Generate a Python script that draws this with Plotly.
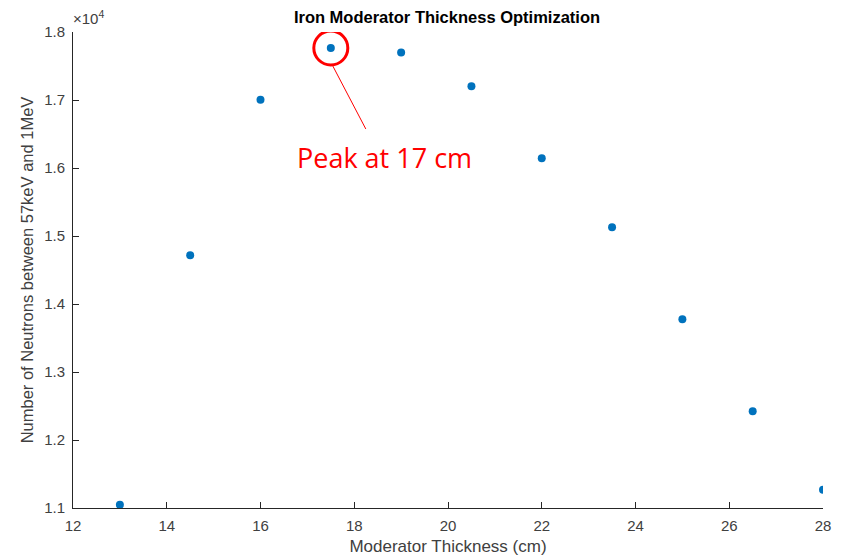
import plotly.graph_objects as go

thickness = [13, 14.5, 16, 17.5, 19, 20.5, 22, 23.5, 25, 26.5, 28]
neutrons = [11047, 14716, 17003, 17765, 17697, 17201, 16143, 15128, 13775, 12422, 11270]
ytick_vals = [11000, 12000, 13000, 14000, 15000, 16000, 17000, 18000]
ytick_text = ["1.1", "1.2", "1.3", "1.4", "1.5", "1.6", "1.7", "1.8"]
xtick_vals = [12, 14, 16, 18, 20, 22, 24, 26, 28]

peak_i = neutrons.index(max(neutrons))
px, py = thickness[peak_i], neutrons[peak_i]

axis_col = "#262626"
label_col = "#404040"
font_fam = "Liberation Sans, Arial, sans-serif"

fig = go.Figure()
fig.add_trace(go.Scatter(
    x=thickness, y=neutrons, mode="markers",
    marker=dict(color="#0072BD", size=8, line=dict(width=0)),
    showlegend=False, hoverinfo="x+y"))

fig.update_layout(
    width=841, height=556,
    margin=dict(l=73, r=18, t=32, b=48),
    plot_bgcolor="white", paper_bgcolor="white",
    font=dict(family=font_fam, color=axis_col, size=15),
    title=dict(text="<b>Iron Moderator Thickness Optimization</b>",
               x=0.5315, xanchor="center", y=0.969, yanchor="middle",
               font=dict(size=16.5, color="black")),
    xaxis=dict(range=[12, 28], tickvals=xtick_vals, ticks="inside", ticklen=6,
               tickcolor=axis_col, showline=True, linecolor=axis_col, linewidth=1,
               showgrid=False, zeroline=False, ticklabelstandoff=4, automargin=False,
               tickfont=dict(size=15, color=label_col),
               title=dict(text="Moderator Thickness (cm)", standoff=10,
                          font=dict(size=17, color=label_col))),
    yaxis=dict(range=[11000, 18000], tickvals=ytick_vals, ticktext=ytick_text,
               ticks="inside", ticklen=6, tickcolor=axis_col,
               showline=True, linecolor=axis_col, linewidth=1,
               showgrid=False, zeroline=False, ticklabelstandoff=4, automargin=False,
               tickfont=dict(size=15, color=label_col),
               title=dict(text="Number of Neutrons between 57keV and 1MeV", standoff=6,
                          font=dict(size=16.5, color=label_col))),
)

# exponent label
fig.add_annotation(text="×10<sup>4</sup>", xref="paper", yref="paper", x=0, y=1,
                   xanchor="left", yanchor="bottom", showarrow=False, xshift=-2, yshift=3,
                   font=dict(size=15, color=label_col))

# circle around peak
fig.add_shape(type="circle", xref="x", yref="y", xsizemode="pixel", ysizemode="pixel",
              xanchor=px, yanchor=py, x0=-17, x1=17, y0=-17, y1=17,
              line=dict(color="#FF0000", width=3))
# pointer line
fig.add_shape(type="line", xref="x", yref="y", xsizemode="pixel", ysizemode="pixel",
              xanchor=px, yanchor=py, x0=2, x1=35, y0=-18, y1=-81,
              line=dict(color="#FF0000", width=1))
# label
fig.add_annotation(text="Peak at 17 cm", x=px, y=py, xref="x", yref="y",
                   showarrow=False, xshift=54, yshift=-110,
                   font=dict(size=27, color="#FF0000", family="Open Sans, sans-serif"))

fig.write_html("out.html")
